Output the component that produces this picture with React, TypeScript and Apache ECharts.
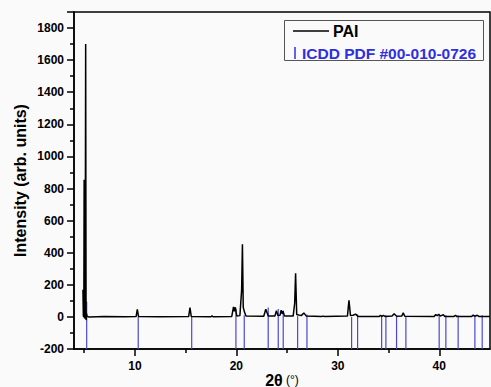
import React, { useEffect, useRef } from "react";
import * as echarts from "echarts";

// PAI diffraction pattern (2θ in degrees, intensity in arb. units)
const paiTwoTheta = [
  4.88, 4.92, 4.97, 5.0, 5.04, 5.1, 5.15, 5.19, 5.23, 5.3, 5.5, 7.0, 9.0,
  10.12, 10.24, 10.36, 12.5, 15.3, 15.43, 15.56, 17.5, 17.6, 17.7,
  19.55, 19.72, 19.8, 19.9, 20.05, 20.35, 20.52, 20.6, 20.68, 20.8, 20.95,
  22.7, 22.9, 23.15, 23.8, 23.95, 24.1, 24.3, 24.42, 24.52, 24.6, 24.75,
  25.6, 25.75, 25.84, 25.95, 26.4, 26.65, 26.9, 28.4, 28.55, 28.7,
  30.95, 31.1, 31.25, 31.5, 31.75, 32.0, 34.1, 34.2, 34.35, 34.5, 34.65,
  35.35, 35.55, 35.8, 36.3, 36.45, 36.6, 39.5, 39.65, 39.8, 39.95, 40.1,
  40.4, 40.55, 41.45, 41.6, 41.75, 43.2, 43.35, 43.5, 43.75, 43.9, 45.0,
];
const paiIntensity = [
  170, 5, 0, 855, -10, 0, 1700, -20, 20, 2, 0, 2, 1,
  2, 47, 2, 1, 2, 58, 2, 1, 6, 1,
  3, 62, 35, 60, 5, 8, 165, 453, 60, 30, 5,
  4, 48, 5, 6, 38, 8, 10, 42, 20, 35, 5,
  5, 85, 272, 15, 8, 25, 5, 2, 5, 2,
  5, 103, 8, 10, 17, 3, 3, 10, 4, 9, 3,
  5, 20, 4, 5, 25, 4, 3, 15, 8, 16, 5,
  14, 3, 3, 10, 2, 3, 11, 4, 10, 3, 2,
];

// ICDD PDF #00-010-0726 reference sticks (2θ, top of stick)
const icddTwoTheta = [
  5.25, 10.33, 15.6, 19.96, 20.78, 23.14, 24.13, 24.62, 26.04, 26.96,
  31.36, 31.95, 34.32, 34.74, 35.79, 36.71, 39.99, 40.65, 41.86, 43.51, 44.23,
];
const icddTop = [
  95, 0, 0, 50, 10, 58, 50, 40, 5, 15,
  0, 15, 10, 10, 0, 0, 10, 10, 10, 10, 10,
];

const yTickLabels = [-200, 0, 200, 400, 600, 800, 1000, 1200, 1400, 1600, 1800];
const xMajorTicks = [10, 20, 30, 40];
const xMinorTicks = [5, 15, 25, 35];

const X_MIN = 4;
const X_MAX = 45;
const Y_MIN = -200;
const Y_MAX = 1900;

const FONT = '"Liberation Sans", Arial, sans-serif';
const BG = "#fafafa";

export default function App() {
  const ref = useRef<HTMLDivElement>(null);

  useEffect(() => {
    if (!ref.current) return;
    const chart = echarts.init(ref.current, undefined, { renderer: "svg" });

    const paiData = paiTwoTheta.map((t, i) => [t, paiIntensity[i]]);
    const icddData = icddTwoTheta.map((t, i) => [t, icddTop[i]]);

    const option: any = {
      animation: false,
      backgroundColor: BG,
      grid: {
        left: 74,
        right: 1,
        top: 12,
        bottom: 38,
        containLabel: false,
        outerBoundsMode: "none",
        show: true,
        borderColor: "#000",
        borderWidth: 1.5,
        backgroundColor: "transparent",
      },
      xAxis: [
        {
          type: "value",
          min: X_MIN,
          max: X_MAX,
          position: "bottom",
          axisLine: { show: true, onZero: false, lineStyle: { color: "#000", width: 1.5 } },
          axisTick: {
            show: true,
            inside: false,
            length: 7,
            customValues: xMajorTicks,
            lineStyle: { color: "#000", width: 1.5 },
          },
          axisLabel: {
            show: true,
            customValues: xMajorTicks,
            margin: 11,
            color: "#000",
            fontSize: 12,
            fontWeight: "bold",
            fontFamily: FONT,
          },
          splitLine: { show: false },
          name: "{a|2θ} {b|(°)}",
          nameLocation: "middle",
          nameGap: 23,
          nameMoveOverlap: false,
          nameTextStyle: {
            color: "#000",
            fontFamily: FONT,
            rich: {
              a: { fontSize: 16, fontWeight: "bold", fontFamily: FONT, color: "#000" },
              b: { fontSize: 12, fontFamily: FONT, color: "#000" },
            },
          },
        },
        {
          type: "value",
          min: X_MIN,
          max: X_MAX,
          position: "bottom",
          offset: 0,
          axisLine: { show: false, onZero: false },
          axisTick: {
            show: true,
            inside: false,
            length: 4,
            customValues: xMinorTicks,
            lineStyle: { color: "#000", width: 1.5 },
          },
          axisLabel: { show: false },
          splitLine: { show: false },
        },
      ],
      yAxis: {
        type: "value",
        min: Y_MIN,
        max: Y_MAX,
        interval: 200,
        axisLine: { show: true, onZero: false, lineStyle: { color: "#000", width: 1.5 } },
        axisTick: {
          show: true,
          inside: false,
          length: 7,
          lineStyle: { color: "#000", width: 1.5 },
        },
        minorTick: {
          show: true,
          splitNumber: 2,
          length: 4,
          lineStyle: { color: "#000", width: 1.5 },
        },
        axisLabel: {
          margin: 10,
          color: "#000",
          fontSize: 12,
          fontWeight: "bold",
          fontFamily: FONT,
          formatter: (v: number) => (yTickLabels.indexOf(v) >= 0 ? String(v) : ""),
        },
        splitLine: { show: false },
        minorSplitLine: { show: false },
        name: "Intensity (arb. units)",
        nameLocation: "middle",
        nameGap: 46,
        nameMoveOverlap: false,
        nameTextStyle: {
          color: "#000",
          fontSize: 16,
          fontWeight: "bold",
          fontFamily: FONT,
        },
      },
      series: [
        {
          name: "ICDD PDF #00-010-0726",
          type: "custom",
          xAxisIndex: 0,
          yAxisIndex: 0,
          clip: true,
          z: 2,
          data: icddData,
          renderItem: (_params: any, api: any) => {
            const x = api.value(0);
            const top = api.value(1);
            const p1 = api.coord([x, Y_MIN]);
            const p2 = api.coord([x, top]);
            return {
              type: "line",
              shape: { x1: p1[0], y1: p1[1], x2: p2[0], y2: p2[1] },
              style: { stroke: "#4848d4", lineWidth: 1.2 },
            };
          },
        },
        {
          name: "PAI",
          type: "line",
          xAxisIndex: 0,
          yAxisIndex: 0,
          z: 3,
          data: paiData,
          showSymbol: false,
          symbol: "none",
          lineStyle: { color: "#000", width: 1.5 },
          clip: true,
        },
      ],
      graphic: [
        {
          type: "rect",
          shape: { x: 284.5, y: 20.5, width: 199, height: 40 },
          style: { fill: BG, stroke: "#555", lineWidth: 1 },
          z: 10,
        },
        {
          type: "line",
          shape: { x1: 293, y1: 31, x2: 329, y2: 31 },
          style: { stroke: "#000", lineWidth: 1.5 },
          z: 11,
        },
        {
          type: "text",
          x: 333,
          y: 31,
          style: {
            text: "PAI",
            fill: "#000",
            fontSize: 16,
            fontWeight: "bold",
            fontFamily: FONT,
            verticalAlign: "middle",
            align: "left",
          },
          z: 11,
        },
        {
          type: "line",
          shape: { x1: 295, y1: 47, x2: 295, y2: 59 },
          style: { stroke: "#2f2fe0", lineWidth: 1.5 },
          z: 11,
        },
        {
          type: "text",
          x: 302,
          y: 53,
          style: {
            text: "ICDD PDF #00-010-0726",
            fill: "#2f2fe0",
            fontSize: 15.5,
            fontWeight: "bold",
            fontFamily: FONT,
            verticalAlign: "middle",
            align: "left",
          },
          z: 11,
        },
      ],
    };

    chart.setOption(option);
    return () => chart.dispose();
  }, []);

  return (
    <div
      ref={ref}
      style={{ position: "fixed", left: 0, top: 0, width: 491, height: 387 }}
    />
  );
}
